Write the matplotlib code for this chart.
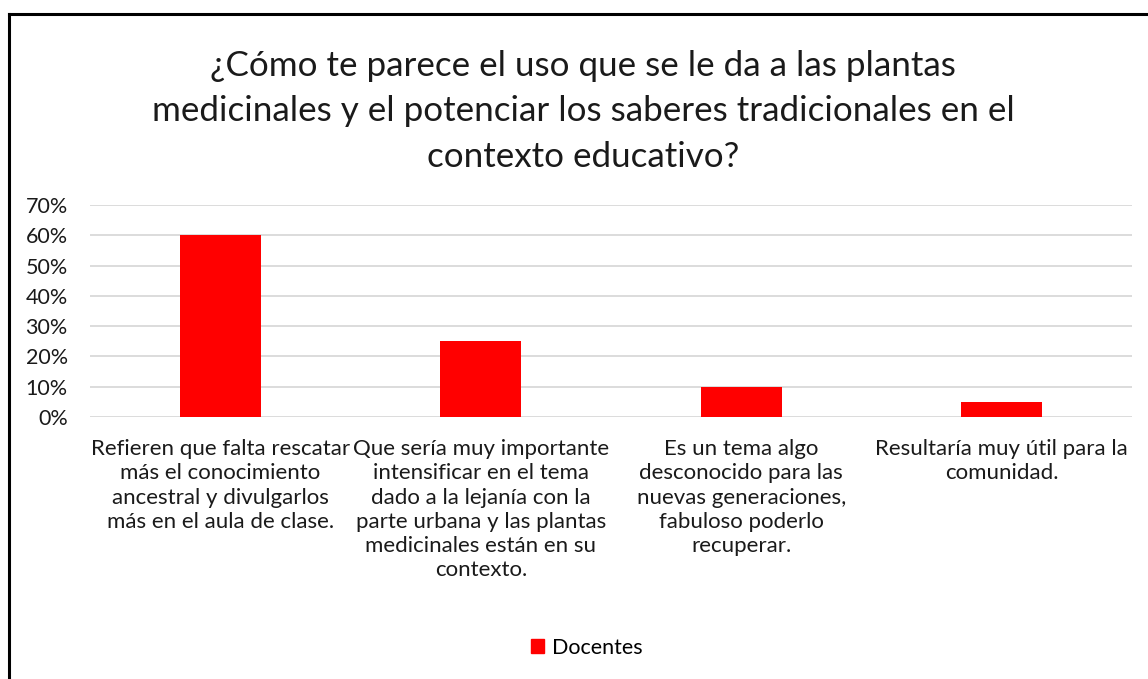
import matplotlib.pyplot as plt
from matplotlib.lines import Line2D
from matplotlib.patches import Patch
from matplotlib.ticker import PercentFormatter

plt.rcParams['font.family'] = ['Lato', 'DejaVu Sans']

# data
categorias = [
    "Refieren que falta rescatar\nmás el conocimiento\nancestral y divulgarlos\nmás en el aula de clase.",
    "Que sería muy importante\nintensificar en el tema\ndado a la lejanía con la\nparte urbana y las plantas\nmedicinales están en su\ncontexto.",
    "Es un tema algo\ndesconocido para las\nnuevas generaciones,\nfabuloso poderlo\nrecuperar.",
    "Resultaría muy útil para la\ncomunidad.",
]
docentes = [0.60, 0.25, 0.10, 0.05]
titulo = ("¿Cómo te parece el uso que se le da a las plantas\n"
          "medicinales y el potenciar los saberes tradicionales en el\n"
          "contexto educativo?")

fig = plt.figure(figsize=(11.48, 6.79), dpi=100)
ax = fig.add_axes([0.0784, 0.3859, 0.9077, 0.3122])

x = range(len(categorias))
ax.bar(x, docentes, width=0.31, color='#ff0000', zorder=3)

ax.set_xlim(-0.5, len(categorias) - 0.5)
ax.set_ylim(0, 0.70)
ax.set_yticks([i / 10 for i in range(8)])
ax.yaxis.set_major_formatter(PercentFormatter(1.0, decimals=0))
ax.grid(axis='y', color='#d9d9d9', linewidth=1.3, zorder=0)
for s in ax.spines.values():
    s.set_visible(False)
ax.tick_params(axis='both', length=0, colors='#1a1a1a')
ax.tick_params(axis='y', pad=16, labelsize=15.5)
ax.set_xticks(list(x))
ax.set_xticklabels(categorias, fontsize=16, linespacing=1.26, va='top')
ax.tick_params(axis='x', pad=16)

fig.text(0.508, 0.927, titulo, ha='center', va='top', fontsize=25.2,
         linespacing=1.52, color='#1a1a1a')

fig.legend(handles=[Patch(color='#ff0000', label='Docentes')],
           loc='center', bbox_to_anchor=(0.511, 0.046), frameon=False,
           fontsize=15.5, handlelength=0.6, handleheight=0.6,
           handletextpad=0.35)

# border (left and top only)
fig.add_artist(Line2D([9 / 1148, 9 / 1148], [0, 1 - 14 / 679],
                      transform=fig.transFigure, color='black', lw=2.2))
fig.add_artist(Line2D([9 / 1148, 1], [1 - 14 / 679, 1 - 14 / 679],
                      transform=fig.transFigure, color='black', lw=2.2))

fig.savefig('out.png', dpi=100)
